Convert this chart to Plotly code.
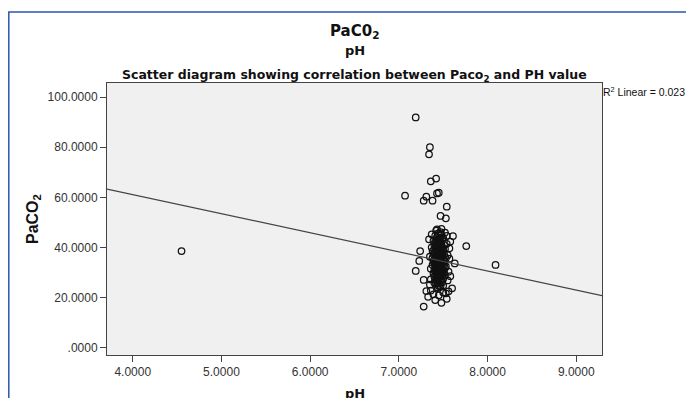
import plotly.graph_objects as go

# ---- data ----
ph_values = [
    4.55, 7.19, 7.35, 7.34, 7.36, 7.42, 7.07, 7.31, 7.28, 7.38, 7.43, 7.45, 7.54, 7.47, 7.53, 7.43,
    7.76, 8.09, 7.24, 7.23, 7.19, 7.28, 7.31, 7.33, 7.28, 7.41, 7.48, 7.54, 7.60, 7.61, 7.58, 7.63,
    7.40, 7.42, 7.45, 7.44, 7.47, 7.43, 7.46, 7.41, 7.48, 7.39, 7.44, 7.50, 7.45, 7.42, 7.47, 7.49,
    7.38, 7.46, 7.43, 7.51, 7.40, 7.45, 7.48, 7.41, 7.44, 7.52, 7.39, 7.47, 7.43, 7.50, 7.46, 7.42,
    7.49, 7.44, 7.40, 7.47, 7.45, 7.41, 7.48, 7.43, 7.51, 7.46, 7.38, 7.44, 7.50, 7.42, 7.47, 7.45,
    7.49, 7.40, 7.53, 7.43, 7.46, 7.41, 7.48, 7.44, 7.52, 7.39, 7.47, 7.45, 7.42, 7.50, 7.46, 7.43,
    7.48, 7.40, 7.51, 7.44, 7.47, 7.41, 7.45, 7.49, 7.42, 7.46, 7.43, 7.50, 7.38, 7.47, 7.44, 7.52,
    7.45, 7.41, 7.48, 7.46, 7.43, 7.49, 7.40, 7.47, 7.44, 7.51, 7.42, 7.46, 7.45, 7.48, 7.43, 7.50,
    7.41, 7.47, 7.44, 7.39, 7.46, 7.52, 7.45, 7.42, 7.48, 7.43, 7.47, 7.53, 7.40, 7.49, 7.44, 7.46,
    7.41, 7.45, 7.50, 7.43, 7.47, 7.48, 7.42, 7.46, 7.44, 7.51, 7.45, 7.49, 7.43, 7.47, 7.40, 7.55,
    7.56, 7.54, 7.36, 7.37, 7.55, 7.36, 7.57, 7.35, 7.54, 7.37, 7.56, 7.36, 7.53, 7.39, 7.45, 7.50,
    7.42, 7.48, 7.52, 7.58, 7.34, 7.35, 7.57,
]
paco2_values = [
    38.6, 91.9, 80.0, 77.2, 66.4, 67.5, 60.7, 60.3, 58.7, 58.7, 61.6, 61.9, 56.3, 52.6, 51.7, 47.3,
    40.6, 33.1, 38.6, 34.7, 30.7, 27.1, 22.7, 20.4, 16.5, 19.1, 18.0, 19.6, 23.8, 44.6, 42.4, 33.7,
    35.2, 33.8, 36.1, 31.5, 34.4, 38.2, 29.7, 40.3, 32.6, 37.4, 27.9, 30.8, 42.1, 25.6, 39.5, 36.7,
    33.1, 44.0, 30.2, 34.9, 28.4, 24.7, 41.3, 36.0, 45.6, 31.9, 42.7, 27.1, 35.5, 38.9, 32.3, 29.0,
    26.2, 39.8, 31.0, 43.2, 33.0, 44.8, 29.5, 41.6, 37.3, 25.1, 38.6, 34.0, 43.9, 37.0, 30.5, 28.3,
    33.7, 40.9, 35.8, 26.8, 37.9, 32.8, 45.1, 23.9, 39.4, 29.8, 35.0, 40.7, 34.3, 27.6, 41.9, 31.7,
    37.6, 26.0, 30.1, 36.5, 46.2, 38.0, 30.9, 40.2, 42.5, 35.7, 28.7, 33.4, 35.9, 24.4, 43.0, 36.3,
    38.4, 27.4, 34.7, 31.2, 44.3, 29.3, 33.6, 38.1, 25.9, 41.0, 39.1, 28.0, 45.8, 31.4, 36.8, 35.4,
    30.4, 40.8, 32.9, 34.6, 39.0, 28.8, 26.5, 31.3, 38.7, 33.3, 28.9, 32.5, 37.8, 43.5, 30.0, 34.1,
    41.7, 35.3, 24.9, 39.9, 32.0, 26.6, 27.7, 42.8, 37.2, 33.0, 29.1, 38.3, 24.2, 36.9, 39.3, 37.0,
    30.4, 41.5, 31.6, 40.1, 26.9, 27.3, 35.6, 36.4, 44.7, 45.3, 22.6, 22.9, 21.8, 21.4, 21.0, 22.1,
    46.8, 47.5, 46.0, 28.6, 43.3, 25.2, 39.7,
]

fit_intercept = 91.5
fit_slope = -7.6
x_range = [3.71, 9.29]
y_range = [-2.8, 105.6]

x_tick_vals = [4, 5, 6, 7, 8, 9]
x_tick_text = ["4.0000", "5.0000", "6.0000", "7.0000", "8.0000", "9.0000"]
y_tick_vals = [0, 20, 40, 60, 80, 100]
y_tick_text = [".0000", "20.0000", "40.0000", "60.0000", "80.0000", "100.0000"]

FONT = "Arial, Liberation Sans, sans-serif"
WIDE = "DejaVu Sans, Verdana, sans-serif"

# page has an 8px body margin, so the figure is 8px smaller than the window
PLOT_L, PLOT_R, PLOT_T, PLOT_B = 107, 602, 83, 355   # in window pixels
PW, PH = PLOT_R - PLOT_L, PLOT_B - PLOT_T


def px_x(px):
    return (px - PLOT_L) / PW


def px_y(py):
    return (PLOT_B - py) / PH


fig = go.Figure()
fig.add_trace(go.Scatter(
    x=ph_values, y=paco2_values, mode="markers",
    marker=dict(symbol="circle-open", size=6.5, color="#111111", line=dict(width=1.25, color="#111111")),
    showlegend=False, hoverinfo="x+y",
))
fit_y = [fit_intercept + fit_slope * v for v in x_range]
fig.add_trace(go.Scatter(
    x=x_range, y=fit_y, mode="lines",
    line=dict(color="#444444", width=1.2), showlegend=False, hoverinfo="skip",
))

fig.update_layout(
    width=686, height=390, autosize=False,
    margin=dict(l=PLOT_L - 8, r=694 - PLOT_R, t=PLOT_T - 8, b=398 - PLOT_B),
    paper_bgcolor="white", plot_bgcolor="#f0f0f0",
    font=dict(family=FONT, color="#222222", size=11),
    xaxis=dict(range=x_range, tickvals=x_tick_vals, ticktext=x_tick_text,
               showgrid=False, zeroline=False, showline=True, linecolor="#444444", linewidth=1,
               mirror=True, ticks="outside", ticklen=6, tickcolor="#444444",
               tickfont=dict(size=12, family=FONT, color="#333333")),
    yaxis=dict(range=y_range, tickvals=y_tick_vals, ticktext=y_tick_text,
               showgrid=False, zeroline=False, showline=True, linecolor="#444444", linewidth=1,
               mirror=True, ticks="outside", ticklen=6, tickcolor="#444444",
               tickfont=dict(size=12, family=FONT, color="#333333")),
)

fig.add_annotation(text="<b>PaC0<sub>2</sub></b>", xref="paper", yref="paper", x=0.5, y=px_y(31),
                   xanchor="center", yanchor="middle", showarrow=False,
                   font=dict(family=WIDE, size=15, color="#111111"))
fig.add_annotation(text="<b>pH</b>", xref="paper", yref="paper", x=0.5, y=px_y(51),
                   xanchor="center", yanchor="middle", showarrow=False,
                   font=dict(family=WIDE, size=13, color="#111111"))
fig.add_annotation(text="<b>Scatter diagram showing correlation between Paco<sub>2</sub> and PH value</b>",
                   xref="paper", yref="paper", x=0.5, y=px_y(75),
                   xanchor="center", yanchor="middle", showarrow=False,
                   font=dict(family=WIDE, size=12.5, color="#111111"))
fig.add_annotation(text="R<sup>2</sup> Linear = 0.023", xref="paper", yref="paper",
                   x=px_x(601), y=px_y(91), xanchor="left", yanchor="middle",
                   showarrow=False, font=dict(family=FONT, size=10.5, color="#111111"))
fig.add_annotation(text="<b>PaCO<sub>2</sub></b>", xref="paper", yref="paper",
                   x=px_x(33), y=px_y(219), xanchor="center", yanchor="middle", textangle=-90,
                   showarrow=False, font=dict(family=FONT, size=16, color="#111111"))
fig.add_annotation(text="<b>pH</b>", xref="paper", yref="paper",
                   x=0.5, y=px_y(393), xanchor="center", yanchor="middle",
                   showarrow=False, font=dict(family=WIDE, size=13, color="#111111"))

# blue outer frame (left and top edges visible)
fig.add_shape(type="path", xref="paper", yref="paper",
              path=f"M {px_x(720)},{px_y(12)} L {px_x(8.8)},{px_y(12)} L {px_x(8.8)},{px_y(420)}",
              line=dict(color="#2d55b0", width=1.5))

fig.write_html("out.html")
